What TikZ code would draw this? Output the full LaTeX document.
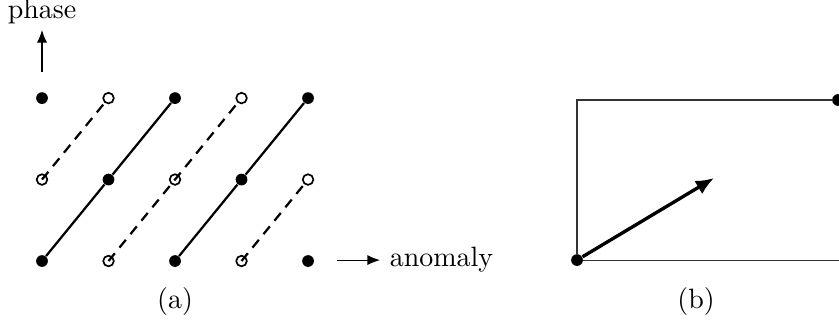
\documentclass[tikz,border=0pt]{standalone}
\usepackage{tikz}
\usetikzlibrary{arrows.meta,positioning}

\begin{document}
\begin{tikzpicture}[
    fulldot/.style={circle,fill,inner sep=0pt,minimum size=4.2pt},
    hollowdot/.style={circle,draw,semithick,inner sep=0pt,minimum size=3.8pt},
    axisarrow/.style={-{Latex[length=4.5pt,width=3.6pt]}}]
  \useasboundingbox (0,0) rectangle (10.546,4.161);
  % (a) lattice of points
  \node[fulldot]   (p00) at (0.528,0.880) {};
  \node[hollowdot] (p10) at (1.364,0.880) {};
  \node[fulldot]   (p20) at (2.200,0.880) {};
  \node[hollowdot] (p30) at (3.036,0.880) {};
  \node[fulldot]   (p40) at (3.872,0.880) {};
  \node[hollowdot] (p01) at (0.528,1.904) {};
  \node[fulldot]   (p11) at (1.364,1.904) {};
  \node[hollowdot] (p21) at (2.200,1.904) {};
  \node[fulldot]   (p31) at (3.036,1.904) {};
  \node[hollowdot] (p41) at (3.872,1.904) {};
  \node[fulldot]   (p02) at (0.528,2.928) {};
  \node[hollowdot] (p12) at (1.364,2.928) {};
  \node[fulldot]   (p22) at (2.200,2.928) {};
  \node[hollowdot] (p32) at (3.036,2.928) {};
  \node[fulldot]   (p42) at (3.872,2.928) {};
  % solid diagonals through full dots
  \draw[thick] (p00) -- (p11) -- (p22);
  \draw[thick] (p20) -- (p31) -- (p42);
  % dashed diagonals through hollow dots
  \draw[thick,dash pattern=on 3.6pt off 2.6pt] (p01.center) -- (p12);
  \draw[thick,dash pattern=on 3.6pt off 2.6pt] (p10.center) -- (p21.center) -- (p32);
  \draw[thick,dash pattern=on 3.6pt off 2.6pt] (p30.center) -- (p41);
  % axes
  \coordinate (phbase) at (0.528,3.256);
  \coordinate (phtip) at (0.528,3.784);
  \node[above=0pt of phtip,inner sep=1.8pt] (phase) {phase};
  \draw[axisarrow] (phbase) -- (phase);
  \coordinate (anbase) at (4.236,0.892);
  \coordinate (antip) at (4.777,0.892);
  \node[right=0pt of antip] (anomaly) {anomaly};
  \draw[axisarrow] (anbase) -- (anomaly.west);
  \node (capa) at (2.200,0.365) {(a)};
  % (b) rectangle with vector
  \node[fulldot] (orig) at (7.253,0.892) {};
  \node[fulldot] (corner) at (10.534,2.904) {};
  \coordinate (topleft) at (7.253,2.904);
  \coordinate (botright) at (10.700,0.892);
  \coordinate (vec) at (8.975,1.923);
  \draw[black!80] (corner) -- (topleft) -- (orig) -- (botright);
  \draw[very thick,-{Latex[length=6.5pt,width=5.5pt]}] (orig) -- (vec);
  \node (capb) at (8.749,0.365) {(b)};
\end{tikzpicture}
\end{document}
